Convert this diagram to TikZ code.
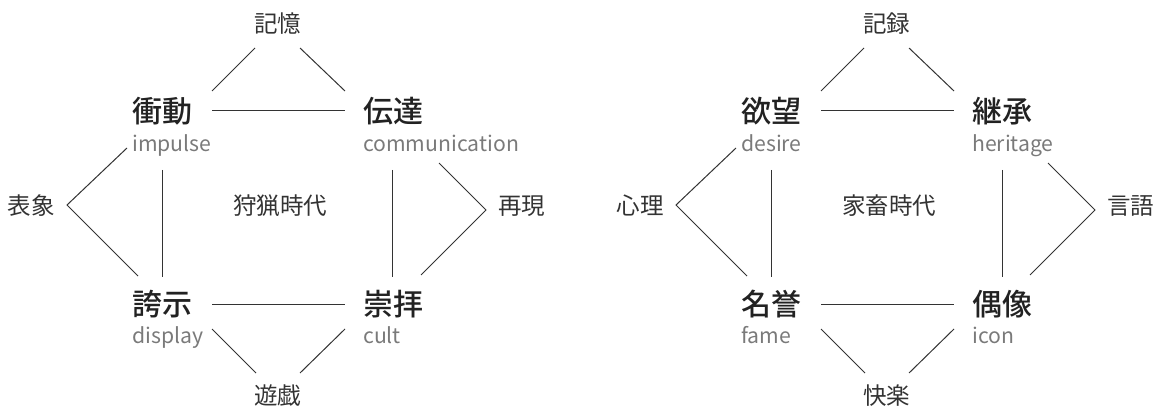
\documentclass[tikz,border=0pt]{standalone}
\usepackage{fontspec}
\newfontfamily\jp{Noto Sans CJK JP}
\newfontfamily\jpmed{Noto Sans CJK JP Medium}
\definecolor{maincol}{HTML}{222222}
\definecolor{subcol}{HTML}{7A7A7A}
\definecolor{labcol}{HTML}{333333}
\definecolor{linecol}{HTML}{333333}
\begin{document}
\begin{tikzpicture}[x=1pt,y=-1pt,
  mainlab/.style={font=\jpmed\fontsize{30}{30}\selectfont, text=maincol, inner sep=0pt, anchor=base west},
  sublab/.style={font=\jp\fontsize{21.2}{21.2}\selectfont, text=subcol, inner sep=0pt, anchor=base west},
  smalllab/.style={font=\jp\fontsize{23.5}{23.5}\selectfont, text=labcol, inner sep=0pt, anchor=base},
  conn/.style={draw=linecol, line width=1pt}]
\useasboundingbox (0,0) rectangle (1158,406);
% ---------------- left diagram ----------------
\begin{scope}
\node[mainlab] (a1) at (132,123) {衝動};
\node[sublab] (a1s) at (132,152) {impulse};
\node[mainlab] (a2) at (363,123) {伝達};
\node[sublab] (a2s) at (363,152) {communication};
\node[mainlab] (a3) at (132,315) {誇示};
\node[sublab] (a3s) at (132,343) {display};
\node[mainlab] (a4) at (363,315) {崇拝};
\node[sublab] (a4s) at (363,343) {cult};
\node[smalllab] (at) at (277.5,33) {記憶};
\node[smalllab] (ab) at (277.5,404) {遊戯};
\node[smalllab] (al) at (31,214) {表象};
\node[smalllab] (ar) at (521.5,214) {再現};
\node[smalllab] (ac) at (280,214) {狩猟時代};
\coordinate (a-h1l) at (212,111); \coordinate (a-h1r) at (345,111);
\coordinate (a-h2l) at (212,304); \coordinate (a-h2r) at (345,304);
\coordinate (a-t1) at (212,91);  \coordinate (a-t2) at (255,48);
\coordinate (a-t3) at (300,48);  \coordinate (a-t4) at (345,91);
\coordinate (a-v1t) at (162,170); \coordinate (a-v1b) at (162,277);
\coordinate (a-v2t) at (392,170); \coordinate (a-v2b) at (392,277);
\coordinate (a-l1) at (127,148); \coordinate (a-l2) at (67,205); \coordinate (a-l3) at (138,276);
\coordinate (a-r1) at (439,163); \coordinate (a-r2) at (486,210); \coordinate (a-r3) at (421,275);
\coordinate (a-b1) at (212,329); \coordinate (a-b2) at (256,373);
\coordinate (a-b3) at (345,329); \coordinate (a-b4) at (300,373);
\draw[conn] (a-h1l) -- (a-h1r);
\draw[conn] (a-h2l) -- (a-h2r);
\draw[conn] (a-t1) -- (a-t2);
\draw[conn] (a-t3) -- (a-t4);
\draw[conn] (a-v1t) -- (a-v1b);
\draw[conn] (a-v2t) -- (a-v2b);
\draw[conn] (a-l1) -- (a-l2) -- (a-l3);
\draw[conn] (a-r1) -- (a-r2) -- (a-r3);
\draw[conn] (a-b1) -- (a-b2);
\draw[conn] (a-b3) -- (a-b4);
\end{scope}
% ---------------- right diagram ----------------
\begin{scope}[xshift=609pt]
\node[mainlab] (b1) at (132,123) {欲望};
\node[sublab] (b1s) at (132,152) {desire};
\node[mainlab] (b2) at (363,123) {継承};
\node[sublab] (b2s) at (363,152) {heritage};
\node[mainlab] (b3) at (132,315) {名誉};
\node[sublab] (b3s) at (132,343) {fame};
\node[mainlab] (b4) at (363,315) {偶像};
\node[sublab] (b4s) at (363,343) {icon};
\node[smalllab] (bt) at (277.5,33) {記録};
\node[smalllab] (bb) at (277.5,404) {快楽};
\node[smalllab] (bl) at (31,214) {心理};
\node[smalllab] (br) at (521.5,214) {言語};
\node[smalllab] (bc) at (280,214) {家畜時代};
\coordinate (b-h1l) at (212,111); \coordinate (b-h1r) at (345,111);
\coordinate (b-h2l) at (212,304); \coordinate (b-h2r) at (345,304);
\coordinate (b-t1) at (212,91);  \coordinate (b-t2) at (255,48);
\coordinate (b-t3) at (300,48);  \coordinate (b-t4) at (345,91);
\coordinate (b-v1t) at (162,170); \coordinate (b-v1b) at (162,277);
\coordinate (b-v2t) at (393,170); \coordinate (b-v2b) at (393,277);
\coordinate (b-l1) at (127,148); \coordinate (b-l2) at (67,205); \coordinate (b-l3) at (138,276);
\coordinate (b-r1) at (439,163); \coordinate (b-r2) at (486,210); \coordinate (b-r3) at (421,275);
\coordinate (b-b1) at (212,329); \coordinate (b-b2) at (256,373);
\coordinate (b-b3) at (345,329); \coordinate (b-b4) at (300,373);
\draw[conn] (b-h1l) -- (b-h1r);
\draw[conn] (b-h2l) -- (b-h2r);
\draw[conn] (b-t1) -- (b-t2);
\draw[conn] (b-t3) -- (b-t4);
\draw[conn] (b-v1t) -- (b-v1b);
\draw[conn] (b-v2t) -- (b-v2b);
\draw[conn] (b-l1) -- (b-l2) -- (b-l3);
\draw[conn] (b-r1) -- (b-r2) -- (b-r3);
\draw[conn] (b-b1) -- (b-b2);
\draw[conn] (b-b3) -- (b-b4);
\end{scope}
\end{tikzpicture}
\end{document}
